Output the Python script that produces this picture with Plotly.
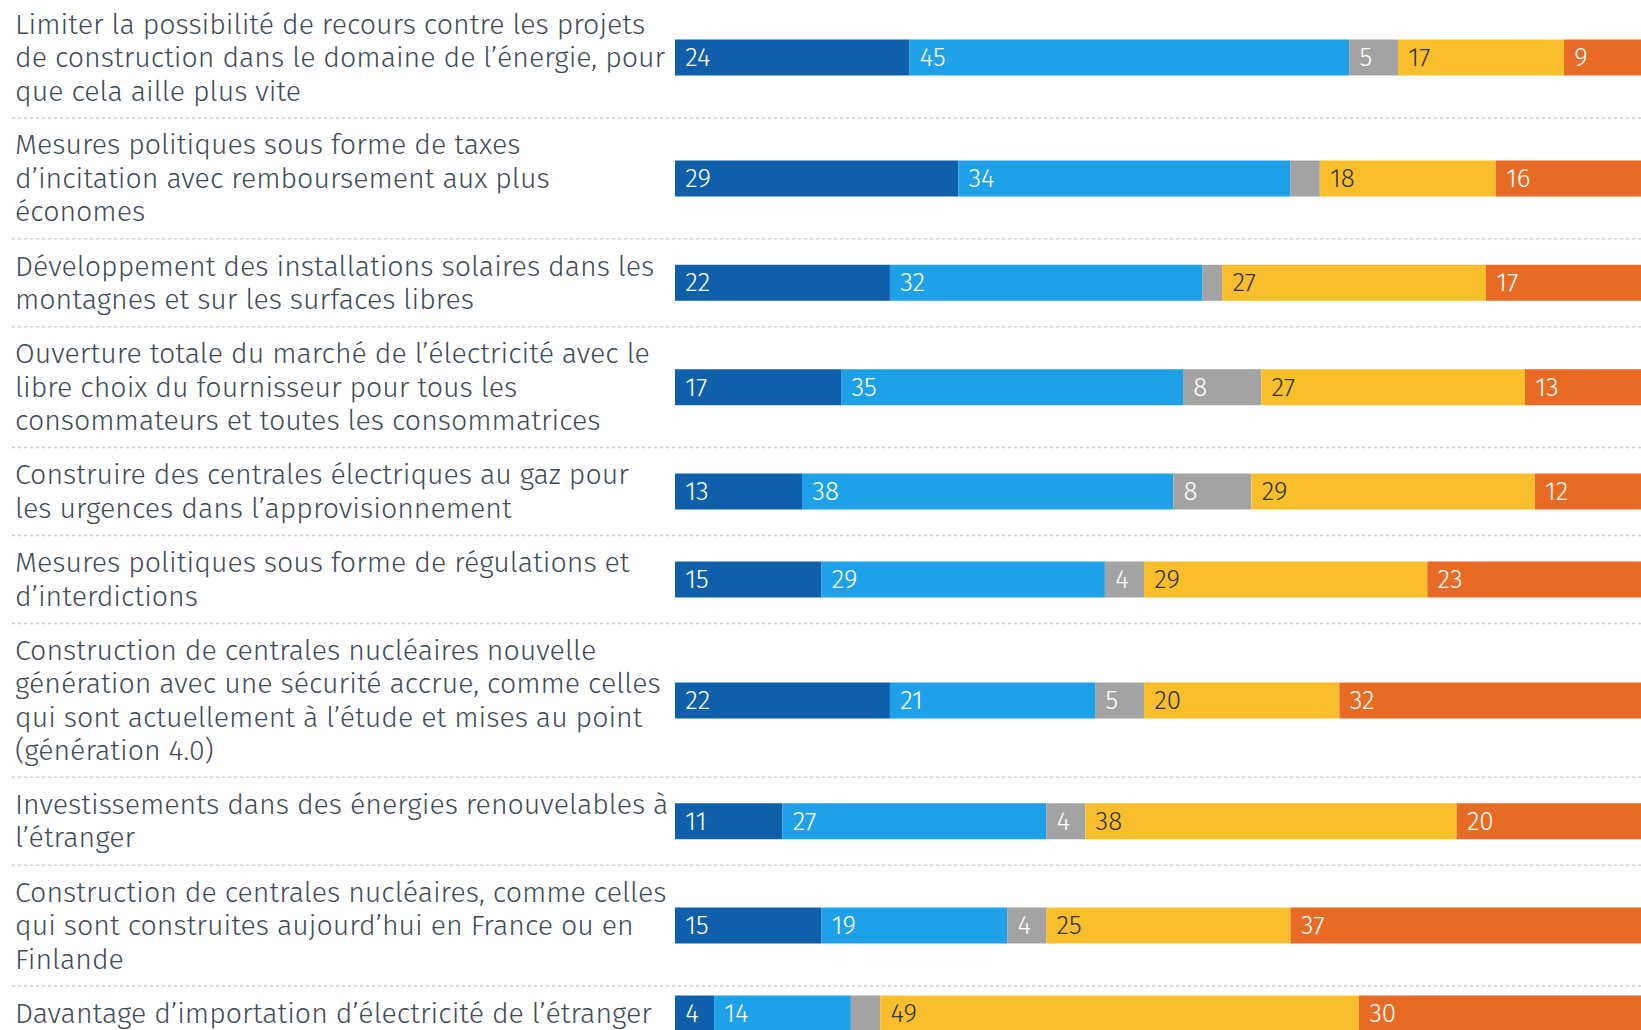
import plotly.graph_objects as go

# Propositions (texte avec retours à la ligne comme dans l'original)
labels = [
    "Limiter la possibilité de recours contre les projets<br>de construction dans le domaine de l’énergie, pour<br>que cela aille plus vite",
    "Mesures politiques sous forme de taxes<br>d’incitation avec remboursement aux plus<br>économes",
    "Développement des installations solaires dans les<br>montagnes et sur les surfaces libres",
    "Ouverture totale du marché de l’électricité avec le<br>libre choix du fournisseur pour tous les<br>consommateurs et toutes les consommatrices",
    "Construire des centrales électriques au gaz pour<br>les urgences dans l’approvisionnement",
    "Mesures politiques sous forme de régulations et<br>d’interdictions",
    "Construction de centrales nucléaires nouvelle<br>génération avec une sécurité accrue, comme celles<br>qui sont actuellement à l’étude et mises au point<br>(génération 4.0)",
    "Investissements dans des énergies renouvelables à<br>l’étranger",
    "Construction de centrales nucléaires, comme celles<br>qui sont construites aujourd’hui en France ou en<br>Finlande",
    "Davantage d’importation d’électricité de l’étranger",
]

tout_a_fait_pour = [24, 29, 22, 17, 13, 15, 22, 11, 15, 4]
plutot_pour = [45, 34, 32, 35, 38, 29, 21, 27, 19, 14]
ne_sait_pas = [5, 3, 2, 8, 8, 4, 5, 4, 4, 3]
plutot_contre = [17, 18, 27, 27, 29, 29, 20, 38, 25, 49]
tout_a_fait_contre = [9, 16, 17, 13, 12, 23, 32, 20, 37, 30]

series = [
    (tout_a_fait_pour, "#0f5fab", "white"),
    (plutot_pour, "#1fa1e9", "white"),
    (ne_sait_pas, "#a3a3a3", "white"),
    (plutot_contre, "#f9be2b", "#333333"),
    (tout_a_fait_contre, "#e86b25", "white"),
]

W, H = 1641, 1030
ROW_LINE = 32.8     # hauteur de rangée par ligne de libellé
ROW_PAD = 22.4
TEXT_LINE = 33.5    # interligne du texte
BAR_X0 = 675
PX_PER_PCT = 9.77
FONT = "Fira Sans, Open Sans, sans-serif"
TEXT_COLOR = "#3f4b57"

# Hauteur de chaque rangée selon le nombre de lignes du libellé
tops, centers = [], []
y = -2.8
for lab in labels:
    h = ROW_LINE * (lab.count("<br>") + 1) + ROW_PAD
    tops.append(y)
    centers.append(y + h / 2)
    y += h
tops.append(y)

fig = go.Figure()
base = [0] * len(labels)
for vals, color, tcolor in series:
    fig.add_trace(go.Bar(
        x=vals, y=centers, base=list(base), orientation="h",
        width=36, marker=dict(color=color, line=dict(width=0)),
        text=["\u00a0" + str(v) if v >= 4 else "" for v in vals],
        textposition="inside", insidetextanchor="start",
        textangle=0, constraintext="none",
        textfont=dict(family=FONT, size=26, color=tcolor, weight=300),
        hoverinfo="skip",
    ))
    base = [b + v for b, v in zip(base, vals)]

# Libellés: une annotation par ligne pour garder l'interligne serré
for lab, c in zip(labels, centers):
    lines = lab.split("<br>")
    n = len(lines)
    for i, line in enumerate(lines):
        fig.add_annotation(
            text=line, xref="paper", x=13 / W, yref="y",
            y=c + (i - (n - 1) / 2) * TEXT_LINE,
            xanchor="left", yanchor="middle", align="left", showarrow=False,
            font=dict(family=FONT, size=28.5, color=TEXT_COLOR, weight=300),
        )

for t in tops[1:]:
    fig.add_shape(type="line", xref="paper", x0=12 / W, x1=1, yref="y", y0=t, y1=t,
                  line=dict(color="#cfcfcf", width=1.5, dash="dot"))

fig.update_layout(
    width=W, height=H,
    margin=dict(l=0, r=0, t=0, b=0),
    barmode="overlay",
    showlegend=False,
    plot_bgcolor="white", paper_bgcolor="white",
    xaxis=dict(domain=[BAR_X0 / W, 1], range=[0, (W - BAR_X0) / PX_PER_PCT],
               visible=False, fixedrange=True),
    yaxis=dict(range=[H, 0], visible=False, fixedrange=True),
)

fig.write_html("out.html", config=dict(displayModeBar=False),
               post_script="document.body.style.margin='0';document.body.style.overflow='hidden';")
